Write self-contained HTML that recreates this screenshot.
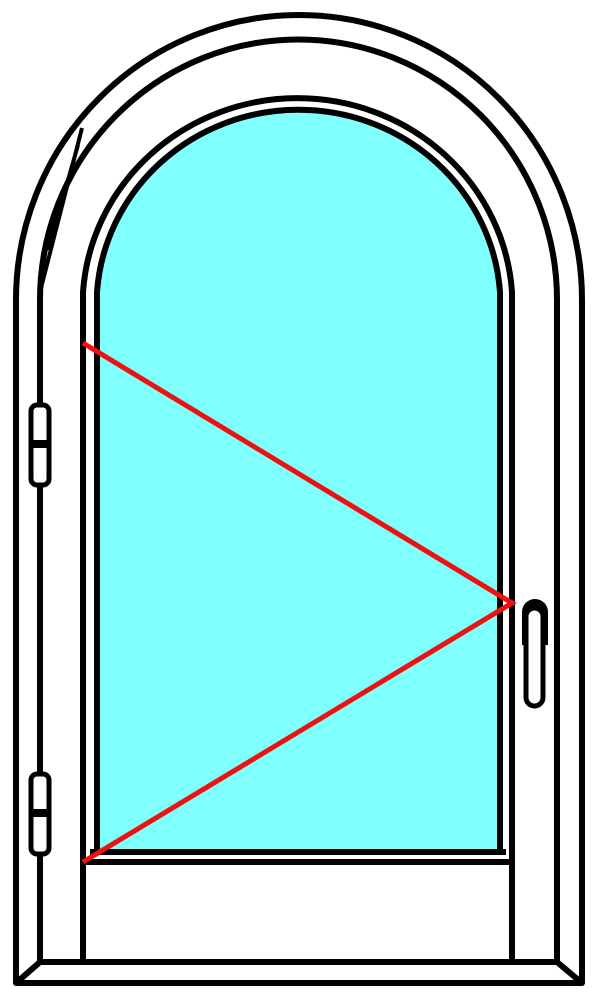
<!DOCTYPE html>
<html><head><meta charset="utf-8"><style>html,body{margin:0;padding:0;background:#fff}svg{display:block}</style></head>
<body>
<svg width="602" height="999" viewBox="0 0 602 999" fill="none" stroke="#000" stroke-width="6" stroke-linejoin="round">
  <!-- glass -->
  <path d="M97,852 L97,292 A202,196 0 0 1 500,292 L500,852 Z" fill="#80ffff" stroke="#000" stroke-width="6"/>
  <!-- outer frame -->
  <path d="M16,983 L16,300 A283,285 0 0 1 582,300 L582,983 Z"/>
  <path d="M40,962 L40,300 A258,260 0 0 1 557,300 L557,962 Z"/>
  <line x1="16" y1="983" x2="40" y2="962"/>
  <line x1="582" y1="983" x2="557" y2="962"/>
  <!-- sash -->
  <path d="M83,962 L83,292 A215,208 0 0 1 512,292 L512,962"/>
  <path d="M83,862 L512,862"/>
  <line x1="90" y1="852" x2="506" y2="852"/>
  <!-- thin diagonal detail -->
  <path d="M82,128 L40,292 M78,145 L48,250" stroke-width="4"/>
  <!-- hinges -->
  <g stroke-width="5">
    <rect x="31" y="405" width="18" height="80" rx="6" fill="#fff"/>
    <line x1="29" y1="444" x2="51" y2="444" stroke-width="8"/>
  </g>
  <g stroke-width="5">
    <rect x="31" y="774" width="18" height="80" rx="6" fill="#fff"/>
    <line x1="29" y1="813" x2="51" y2="813" stroke-width="8"/>
  </g>
  <!-- handle -->
  <g>
    <path d="M522,645 L522,612 A13,13 0 0 1 548,612 L548,645 Z" fill="#000" stroke="none"/>
    <rect x="526" y="608" width="17" height="98" rx="8.5" fill="#fff" stroke-width="5"/>
  </g>
  <!-- opening indicator -->
  <polyline points="83,343 512,603 83,862" stroke="#ee1111" stroke-width="5" stroke-linejoin="miter"/>
</svg>
</body></html>
